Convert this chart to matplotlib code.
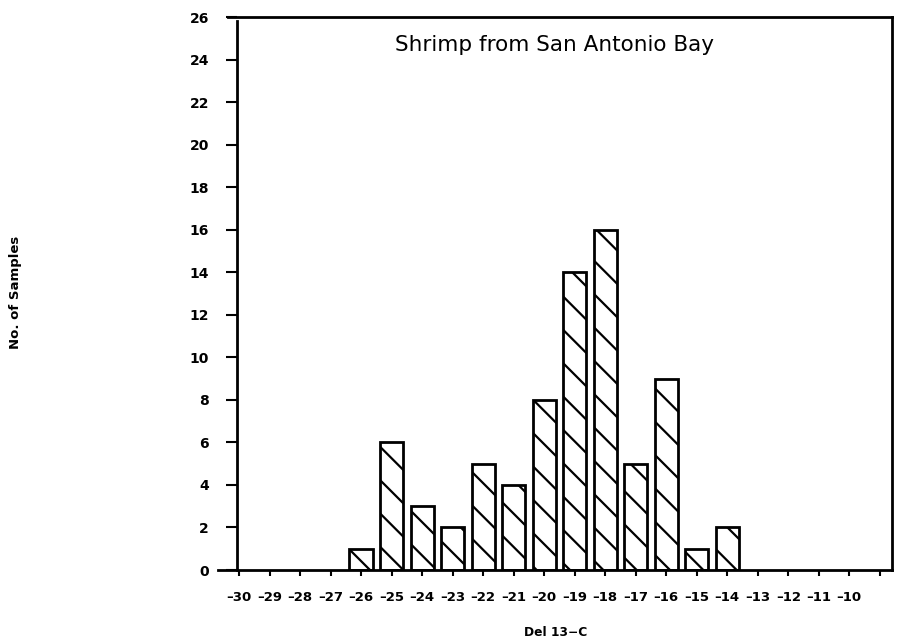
import numpy as np
from matplotlib import pyplot as plt

# del 13-C bins and counts
bins = [-26, -25, -24, -23, -22, -21, -20, -19, -18, -17, -16, -15, -14]
counts = [1, 6, 3, 2, 5, 4, 8, 14, 16, 5, 9, 1, 2]
xticks = list(range(-30, -8))
xlabels = [str(v).replace("-", "\u2013") for v in range(-30, -9)] + [""]
yticks = list(range(0, 27, 2))

plt.rcParams['hatch.linewidth'] = 1.6

fig = plt.figure(figsize=(9.09, 6.43), dpi=100)
ax = fig.add_axes([0.2398, 0.1135, 0.7415, 0.860])

ax.bar(bins, counts, width=0.76, color='white', edgecolor='black',
       linewidth=2.0, hatch='\\', zorder=2)

ax.set_xlim(-30.69, -8.6)
ax.set_ylim(0, 26)

ax.spines['left'].set_position(('data', -30.07))
ax.spines['left'].set_bounds(0, 25.8)
ax.spines['top'].set_bounds(-30.37, -8.6)
for s in ax.spines.values():
    s.set_linewidth(2.0)

ax.set_xticks(xticks)
ax.set_xticklabels(xlabels, fontsize=9.5, fontweight='bold')
ax.set_yticks(yticks)
ax.set_yticklabels([str(v) for v in yticks], fontsize=10, fontweight='bold')
ax.tick_params(axis='y', direction='out', length=8, width=1.5, pad=12)
ax.tick_params(axis='x', direction='out', length=4, width=1.5, pad=11)

ax.text(0.5, 0.95, "Shrimp from San Antonio Bay", transform=ax.transAxes,
        ha='center', va='center', fontsize=15.5)

fig.text(0.611, 0.016, "Del 13\u2212C", ha='center', va='center',
         fontsize=8.8, fontweight='bold')
fig.text(0.017, 0.546, "No. of Samples", ha='center', va='center',
         rotation=90, fontsize=9.5, fontweight='bold')

plt.savefig("out.png", dpi=100)
